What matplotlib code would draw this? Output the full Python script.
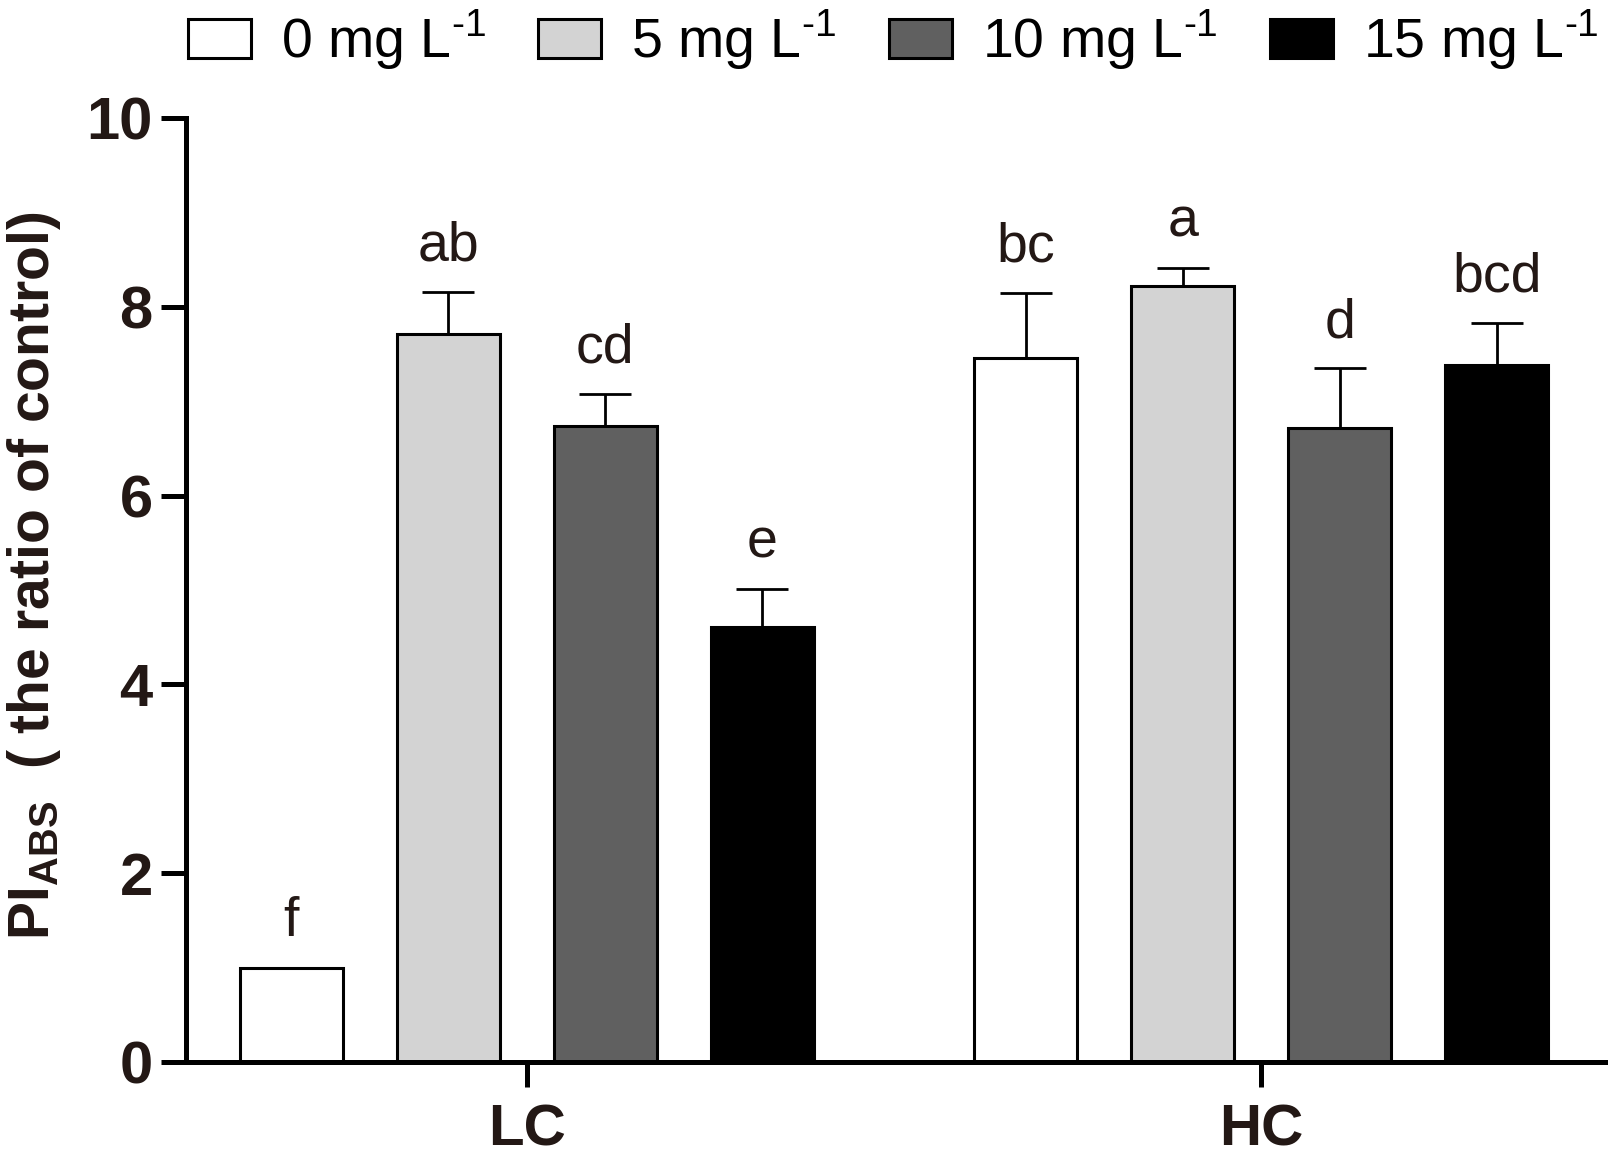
import matplotlib
matplotlib.use("Agg")
import matplotlib.pyplot as plt
from matplotlib.patches import Patch
import numpy as np

plt.rcParams['font.family'] = ['Liberation Sans', 'DejaVu Sans']
plt.rcParams['mathtext.fontset'] = 'custom'
plt.rcParams['mathtext.rm'] = 'Liberation Sans'
plt.rcParams['mathtext.bf'] = 'Liberation Sans:bold'

groups = ['LC', 'HC']
doses = ['0 mg L$^{\\text{-1}}$', '5 mg L$^{\\text{-1}}$',
         '10 mg L$^{\\text{-1}}$', '15 mg L$^{\\text{-1}}$']
colors = ['white', '#d3d3d3', '#606060', 'black']

# values per dose: [LC, HC]
means = [[1.0, 7.46],
         [7.71, 8.22],
         [6.74, 6.72],
         [4.61, 7.38]]
errs = [[0.0, 0.69],
        [0.45, 0.19],
        [0.34, 0.63],
        [0.40, 0.45]]
letters = [['f', 'bc'],
           ['ab', 'a'],
           ['cd', 'd'],
           ['e', 'bcd']]

txtcol = '#231815'
fig = plt.figure(figsize=(16.12, 11.55), dpi=100)
ax = fig.add_axes([186/1612, 1-1062/1155, (1605-186)/1612, (1062-118)/1155])

centers = np.array([0, 4.68])
width = 0.656
for i in range(4):
    x = centers + (i - 1.5)
    ax.bar(x, means[i], width, color=colors[i], edgecolor='black', linewidth=2.2,
           yerr=[np.zeros(2), errs[i]], capsize=18.5,
           error_kw=dict(elinewidth=2.0, capthick=2.0, ecolor='black'), zorder=2)
    for xx, m, e, t in zip(x, means[i], errs[i], letters[i]):
        ax.text(xx, m + e + 0.33, t, ha='center', va='baseline', fontsize=40, color=txtcol)

ax.set_xlim(-2.17, 6.87)
ax.set_ylim(0, 10)
ax.set_yticks([0, 2, 4, 6, 8, 10])
ax.set_xticks(centers)
ax.set_xticklabels(groups)
for s in ['top', 'right']:
    ax.spines[s].set_visible(False)
for s in ['left', 'bottom']:
    ax.spines[s].set_linewidth(3.6)
ax.tick_params(axis='both', length=18, width=3.6, colors='black')
ax.tick_params(axis='y', pad=6, labelsize=43, labelcolor=txtcol)
ax.tick_params(axis='x', pad=12, labelsize=42, labelcolor=txtcol)
for lab in ax.get_xticklabels() + ax.get_yticklabels():
    lab.set_fontweight('bold')

ax.set_ylabel('PI$_{\\mathbf{ABS}}$  ( the ratio of control)', fontsize=41,
              fontweight='bold', color=txtcol)
ax.yaxis.set_label_coords(-0.087, 0.515)

handles = [Patch(facecolor=c, edgecolor='black', linewidth=2.2) for c in colors]
fig.legend(handles, doses, loc='center left', bbox_to_anchor=(188/1612, 1-40/1155),
           ncol=4, frameon=False, fontsize=40, handlelength=1.13, handleheight=0.70,
           handletextpad=0.54, columnspacing=0.95, borderpad=0, borderaxespad=0)

fig.savefig('out.png', dpi=100)
